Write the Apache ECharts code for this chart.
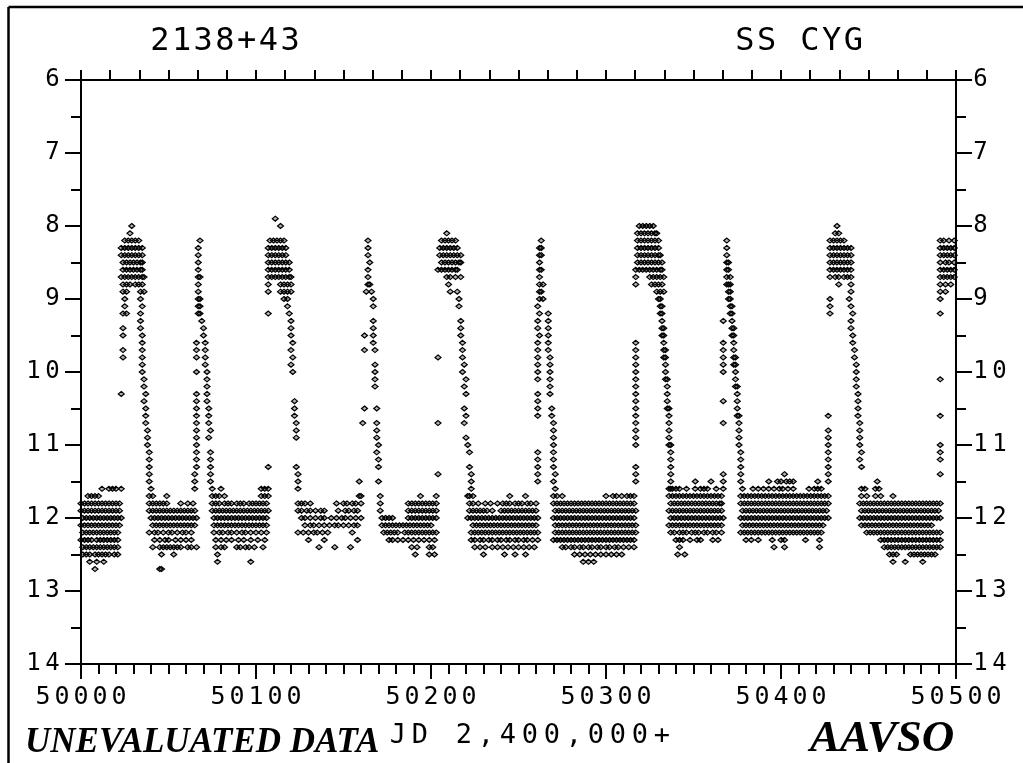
<!DOCTYPE html>
<html>
<head>
<meta charset="utf-8">
<script src="https://cdn.jsdelivr.net/npm/echarts@6/dist/echarts.min.js"></script>
<style>
html,body{margin:0;padding:0;background:#fff;}
#chart{width:1023px;height:763px;}
</style>
</head>
<body>
<div id="chart"></div>
<script>
// ---------- DATA ----------
const jdBase = 50000;
const xTicks = [50000, 50100, 50200, 50300, 50400, 50500];
const yTicks = [6, 7, 8, 9, 10, 11, 12, 13, 14];
const starId = '2138+43';
const starName = 'SS CYG';
const xTitle = 'JD 2,400,000+';

// magnitudes of rows (outbursts), and observation days (JD - 2,450,000) per row
const outburstMags = [7.9, 8.0, 8.1, 8.2, 8.3, 8.4, 8.5, 8.6, 8.7, 8.8, 8.9,
  9.0, 9.1, 9.2, 9.3, 9.4, 9.5, 9.6, 9.7, 9.8, 9.9,
  10.0, 10.1, 10.2, 10.3, 10.4, 10.5, 10.6, 10.7, 10.8, 10.9,
  11.0, 11.1, 11.2, 11.3, 11.4, 11.5];
const outburstDays = [
  [111],
  [29,114,319,321,323,325,327,432],
  [28,209,318,320,322,324,326,328,329,431,433],
  [25,27,29,31,33,68,108,110,112,114,116,164,206,208,210,212,214,263,318,320,322,324,326,328,330,369,428,430,432,434,436,491,493,496,499],
  [23,25,27,29,31,33,35,67,107,109,111,113,115,117,164,205,207,209,211,213,215,262,263,318,320,322,324,326,328,330,369,428,430,432,434,436,438,440,491,493,495,497,499],
  [23,25,27,29,31,33,35,67,107,109,111,113,115,117,164,205,207,209,211,213,215,217,262,263,318,320,322,324,326,328,330,331,369,428,430,432,434,436,438,440,491,493,495,497,499],
  [24,26,28,30,32,34,35,67,107,109,111,113,115,117,119,165,206,208,210,212,214,216,217,262,318,320,322,324,326,328,330,332,369,370,428,430,432,434,436,438,440,491,494,496,499],
  [24,26,28,30,32,34,35,67,107,109,111,113,115,117,119,164,204,206,208,210,212,214,215,262,263,317,319,321,323,325,327,329,331,332,369,370,428,430,432,434,436,438,440,491,493,495,497,499],
  [23,25,27,29,31,33,35,36,67,68,107,109,111,113,115,117,119,120,164,209,211,214,217,262,317,325,327,329,331,333,369,371,428,431,433,436,438,440,491,493,495,497,499],
  [24,26,28,31,33,35,67,107,114,116,118,120,164,165,210,262,264,317,326,328,330,332,369,370,371,433,440,491,494,497],
  [24,26,34,36,67,107,114,116,118,120,163,166,211,215,262,263,329,331,333,370,371,440,491,494],
  [25,34,67,68,116,118,167,216,262,264,330,331,370,371,428,439,491],
  [25,35,67,68,118,167,216,261,331,332,371,372,428,440],
  [24,26,34,67,68,107,119,262,267,331,332,371,372,428,441,491],
  [34,69,120,167,217,261,267,332,367,372,440],
  [24,34,70,120,167,217,261,267,332,333,372,373,440],
  [24,35,70,120,162,167,217,262,267,332,333,372,373,441],
  [35,66,71,121,167,218,261,267,317,333,367,373,441],
  [24,35,66,71,120,162,168,218,261,267,317,333,334,367,373,442],
  [24,35,66,71,121,204,218,261,268,317,333,334,367,373,374,442],
  [35,71,120,168,219,261,268,317,334,367,373,374,443],
  [35,66,72,121,168,218,261,268,317,334,367,374,443],
  [36,72,168,220,261,268,317,334,335,374,443,491],
  [36,72,168,219,268,317,335,374,375,443],
  [23,37,66,72,220,261,268,317,335,375,444],
  [36,66,72,122,261,317,335,367,375,444],
  [37,66,73,122,162,169,219,261,269,317,335,336,375,444],
  [37,66,73,122,220,261,269,317,336,375,376,427,444,491],
  [37,66,73,123,161,169,204,219,270,317,336,367,376,445],
  [38,66,74,123,169,270,317,336,376,427,445],
  [38,66,73,123,169,220,270,317,336,376,427,445],
  [38,66,170,221,270,317,336,337,376,427,445,491],
  [39,66,74,169,222,261,270,337,377,427,446,491],
  [39,66,74,170,261,270,337,377,427,445,491],
  [39,66,74,107,123,170,222,261,270,317,337,377,427,446],
  [39,65,74,124,204,223,261,271,317,337,367,377,402,427,491],
  [39,65,74,124,159,170,223,261,270,317,337,351,360,367,377,393,398,400,403,405,407,421,427,455]
];

// magnitudes of rows (quiescence), and observation days per row
const quiescentMags = [11.6, 11.7, 11.8, 11.9, 12.0, 12.1, 12.2, 12.3, 12.4, 12.5, 12.6, 12.7];
const quiescentDays = [
  [12,16,18,20,23,40,65,75,80,103,105,107,124,223,271,336,337,338,340,342,346,351,354,356,358,363,367,378,384,387,390,393,396,399,401,404,407,416,419,421,423,446,448,454,456],
  [4,6,8,10,39,41,49,75,77,79,82,103,105,107,159,160,171,194,203,221,222,224,245,254,270,272,275,300,304,306,309,312,314,316,336,338,340,342,344,346,348,350,352,354,356,358,360,362,364,366,377,379,381,383,385,387,389,391,393,395,397,399,401,403,405,407,409,411,413,415,417,419,421,423,425,427,446,449,454,457,464],
  [0,2,4,6,8,10,12,14,16,18,20,22,39,41,43,45,47,49,57,61,64,75,77,79,82,84,86,89,91,93,96,98,100,102,104,106,124,126,128,131,146,150,152,155,157,160,171,187,189,191,193,195,197,199,201,203,222,224,227,231,234,238,241,243,245,248,250,252,255,257,260,270,272,274,276,278,280,282,284,286,288,290,292,294,296,298,300,302,304,306,308,310,312,314,316,337,339,341,343,345,347,349,351,353,355,357,359,361,363,365,366,377,379,381,383,385,387,389,391,393,395,397,399,401,403,405,407,409,411,413,415,417,419,421,423,425,427,445,447,449,451,453,455,457,459,461,463,465,467,469,471,473,475,477,479,481,483,485,487,489,491],
  [0,2,4,6,8,10,12,14,16,18,20,22,39,41,43,45,47,49,51,53,55,57,59,61,63,65,75,77,79,81,83,85,87,89,91,93,95,97,99,101,103,105,107,124,126,129,131,134,137,139,147,151,153,156,158,171,187,189,191,193,195,197,199,201,203,222,224,226,228,230,232,235,240,242,244,246,248,250,252,254,256,258,260,271,273,275,277,279,281,283,285,287,289,291,293,295,297,299,301,303,305,307,309,311,313,315,317,336,338,340,342,344,346,348,350,352,354,356,358,360,362,364,366,378,380,382,384,386,388,390,392,394,396,398,400,402,404,406,408,410,412,414,416,418,420,422,424,426,446,448,450,452,454,456,458,460,462,464,466,468,470,472,474,476,478,480,482,484,486,488,490],
  [1,3,5,7,9,11,13,15,17,19,21,23,40,42,44,46,48,50,52,54,56,58,60,62,64,66,76,78,80,82,84,86,88,90,92,94,96,98,100,102,104,106,126,128,131,134,137,139,143,146,149,151,154,157,160,172,174,176,178,187,189,191,193,195,197,199,201,203,221,223,225,227,229,231,233,235,237,239,241,243,245,247,249,251,253,255,257,259,261,270,272,274,276,278,280,282,284,286,288,290,292,294,296,298,300,302,304,306,308,310,312,314,316,337,339,341,343,345,347,349,351,353,355,357,359,361,363,365,367,377,379,381,383,385,387,389,391,393,395,397,399,401,403,405,407,409,411,413,415,417,419,421,423,425,427,445,447,449,451,453,455,457,459,461,463,465,467,469,471,473,475,477,479,481,483,485,487,489,491],
  [0,2,4,6,8,10,12,14,16,18,20,22,41,43,45,47,49,51,53,55,57,59,61,63,65,76,78,80,82,84,86,88,90,92,94,96,98,100,102,104,106,128,131,133,136,139,142,145,147,150,153,156,158,172,174,176,178,180,182,184,186,188,190,192,194,196,198,200,224,226,228,230,232,234,236,238,240,242,244,246,248,250,252,254,256,258,260,271,273,275,277,279,281,283,285,287,289,291,293,295,297,299,301,303,305,307,309,311,313,315,317,336,338,340,342,344,346,348,350,352,354,356,358,360,362,364,366,378,380,382,384,386,388,390,392,394,396,398,400,402,404,406,408,410,412,414,416,418,420,422,424,446,448,450,452,454,456,458,460,462,464,466,468,470,472,474,476,478,480,482,484,486],
  [1,3,5,7,9,11,13,15,17,19,21,39,42,44,47,50,52,55,58,60,63,76,79,81,84,86,89,92,94,97,100,103,106,124,127,130,133,135,138,141,155,173,175,177,179,181,185,187,189,191,193,195,197,199,201,203,223,225,227,229,231,233,235,237,239,241,243,245,247,249,251,253,255,257,259,261,271,273,275,277,279,281,283,285,287,289,291,293,295,297,299,301,303,305,307,309,311,313,315,317,337,339,342,344,346,349,351,353,356,358,361,363,366,377,379,381,383,385,387,389,391,393,395,397,399,401,403,405,407,409,411,413,415,417,419,421,423,449,451,453,455,457,459,461,463,465,467,469,471,473,475,477,479,481,483,485,487,489,491],
  [0,2,4,6,9,11,13,15,17,19,21,42,45,48,50,54,57,60,63,77,80,83,86,90,93,97,101,105,130,139,158,176,178,181,184,187,190,193,196,199,202,223,225,228,230,233,235,238,240,243,245,248,250,253,255,258,261,270,272,274,276,278,280,282,284,286,288,290,292,294,296,298,300,302,304,306,308,310,312,314,316,340,342,344,348,352,354,361,364,380,383,387,395,400,402,414,422,457,459,461,463,465,467,469,471,473,475,477,479,481,483,485,487,489,491],
  [1,3,5,7,9,11,13,15,17,19,21,41,45,47,49,51,53,55,57,61,63,66,77,80,82,89,91,94,96,99,104,136,145,154,189,192,199,201,225,228,231,235,238,241,244,247,250,253,256,259,275,277,280,282,285,287,290,292,295,297,300,302,305,307,310,313,316,342,396,402,422,459,461,463,465,467,469,471,473,475,477,479,481,483,485,487,489,491],
  [1,3,5,8,10,12,14,16,19,21,46,53,78,191,199,202,230,242,248,254,282,285,288,291,294,297,300,303,306,309,341,345,462,464,466,474,476,478,480,482,484,486,488],
  [5,9,13,78,97,287,290,293,464,471,481],
  [8,45,46]
];

// ---------- BUILD ----------
function rowsToPoints(mags, days) {
  const pts = [];
  mags.forEach(function (m, i) {
    days[i].forEach(function (d) { pts.push([jdBase + d, m]); });
  });
  return pts;
}
const points = rowsToPoints(outburstMags, outburstDays).concat(rowsToPoints(quiescentMags, quiescentDays));

const MONO = 'DejaVu Sans Mono';
function spaced(s, key) {
  return String(s).split('').map(function (c) { return '{' + key + '|' + c + '}'; }).join('');
}
function monoRich(size, box) {
  return { width: box, align: 'center', fontFamily: MONO, fontSize: size, fontWeight: 'normal', lineHeight: size, color: '#000' };
}

const axisLine = { show: true, onZero: false, lineStyle: { color: '#000', width: 2 } };
const tickStyle = { color: '#000', width: 2 };

const yBase = {
  type: 'value', inverse: true, min: 6, max: 14, interval: 1,
  axisLine: axisLine,
  axisTick: { show: true, length: 16, lineStyle: tickStyle },
  minorTick: { show: true, splitNumber: 2, length: 10, lineStyle: tickStyle },
  splitLine: { show: false }
};

const chart = echarts.init(document.getElementById('chart'), null, { renderer: 'canvas' });
chart.setOption({
  animation: false,
  backgroundColor: '#fff',
  grid: { left: 81, top: 80, width: 875, height: 584, containLabel: false },
  xAxis: [
    {
      type: 'value', position: 'bottom', min: xTicks[0], max: xTicks[xTicks.length - 1], interval: 100,
      axisLine: axisLine,
      axisTick: { show: true, length: 15, lineStyle: tickStyle },
      minorTick: { show: true, splitNumber: 10, length: 10, lineStyle: tickStyle },
      splitLine: { show: false },
      axisLabel: {
        margin: 21,
        formatter: function (v) { return xTicks.indexOf(v) >= 0 ? spaced(v, 'c') : ''; },
        rich: { c: monoRich(25, 19) }
      }
    },
    {
      type: 'value', position: 'top', min: 0, max: 30, interval: 1,
      axisLine: axisLine,
      axisTick: { show: true, length: 10, lineStyle: tickStyle },
      axisLabel: { show: false },
      splitLine: { show: false }
    }
  ],
  yAxis: [
    Object.assign({}, yBase, {
      position: 'left',
      axisLabel: {
        margin: 19, align: 'right',
        formatter: function (v) { return yTicks.indexOf(v) >= 0 ? spaced(v, 'c') : ''; },
        rich: { c: monoRich(24, 19) }
      }
    }),
    Object.assign({}, yBase, {
      position: 'right',
      axisLabel: {
        margin: 15, align: 'left',
        formatter: function (v) { return yTicks.indexOf(v) >= 0 ? spaced(v, 'c') : ''; },
        rich: { c: monoRich(24, 19) }
      }
    })
  ],
  title: [
    { text: spaced(starId, 't'), left: 149, top: 26, padding: 0, textStyle: { fontWeight: 'normal', rich: { t: monoRich(32, 21.7) } } },
    { text: spaced(starName, 't'), left: 734, top: 26, padding: 0, textStyle: { fontWeight: 'normal', rich: { t: monoRich(32, 21.7) } } },
    { text: spaced(xTitle, 'j'), left: 387, top: 722, padding: 0, textStyle: { fontWeight: 'normal', rich: { j: monoRich(27, 22) } } },
    { text: 'UNEVALUATED DATA', left: 25, top: 725, padding: 0,
      textStyle: { fontFamily: 'Liberation Serif', fontStyle: 'italic', fontWeight: 'bold', fontSize: 35, lineHeight: 35, color: '#000' } },
    { text: 'AAVSO', left: 810, top: 717, padding: 0,
      textStyle: { fontFamily: 'Liberation Serif', fontStyle: 'italic', fontWeight: 'bold', fontSize: 45, lineHeight: 45, color: '#000' } }
  ],
  graphic: [
    { type: 'line', shape: { x1: 8.5, y1: 7, x2: 1023, y2: 7 }, style: { stroke: '#000', lineWidth: 2.5 }, silent: true },
    { type: 'line', shape: { x1: 8.5, y1: 7, x2: 8.5, y2: 763 }, style: { stroke: '#000', lineWidth: 2.5 }, silent: true }
  ],
  series: [{
    type: 'scatter',
    xAxisIndex: 0, yAxisIndex: 0,
    data: points,
    symbol: 'path://M0,-1L1,0L0,1L-1,0Z',
    symbolSize: [6, 5],
    itemStyle: { color: 'rgba(0,0,0,0.3)', borderColor: '#000', borderWidth: 1.2, opacity: 1 },
    emphasis: { disabled: true },
    silent: true
  }]
});
</script>
</body>
</html>
